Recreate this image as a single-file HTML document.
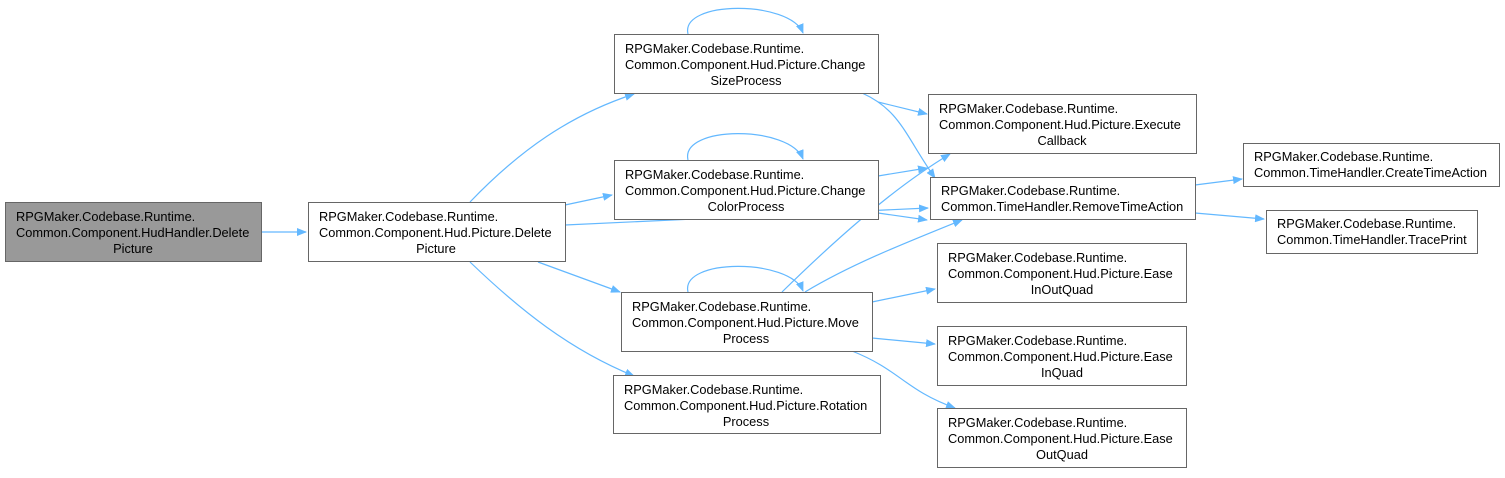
<!DOCTYPE html>
<html><head><meta charset="utf-8"><style>
body{margin:0;background:#fff}
svg text{font-family:"Liberation Sans",sans-serif;font-size:12.8px;fill:#000}
</style></head><body>
<svg width="1505" height="473" viewBox="0 0 1505 473" xmlns="http://www.w3.org/2000/svg">
<defs><marker id="a" markerWidth="10" markerHeight="8" refX="9" refY="4" orient="auto" markerUnits="userSpaceOnUse"><path d="M0,0 L10,4 L0,8 z" fill="#63b8ff"/></marker></defs>
<g fill="none" stroke="#63b8ff" stroke-width="1.2" marker-end="url(#a)">
<path d="M261,232 L306,232"/>
<path d="M470,202 C520,150 570,115 634,94"/>
<path d="M565,205 L612,195"/>
<path d="M565,225 L928,208"/>
<path d="M538,262 L620,292"/>
<path d="M470,262 C520,310 570,350 634,376"/>
<path d="M688,34 C680,0 790,0 803,33"/>
<path d="M688,160 C680,125 790,125 803,159"/>
<path d="M688,292 C680,258 790,258 803,291"/>
<path d="M878,102 L927,114"/>
<path d="M862,93 C900,110 905,135 935,178"/>
<path d="M878,176 L927,168"/>
<path d="M878,213 L927,220"/>
<path d="M782,292 C830,245 890,190 950,154"/>
<path d="M805,292 C850,265 900,245 962,220"/>
<path d="M872,302 L935,289"/>
<path d="M872,338 L935,344"/>
<path d="M852,351 C900,370 905,390 955,408"/>
<path d="M1195,185 L1242,179"/>
<path d="M1195,213 L1264,219"/>
</g>
<g stroke="#666" stroke-width="1">
<rect x="5.5" y="202.5" width="256" height="59" fill="#999"/>
<rect x="308.5" y="202.5" width="257" height="59" fill="#fff"/>
<rect x="614.5" y="34.5" width="264" height="59" fill="#fff"/>
<rect x="614.5" y="160.5" width="264" height="59" fill="#fff"/>
<rect x="621.5" y="292.5" width="251" height="59" fill="#fff"/>
<rect x="613.5" y="375.5" width="267" height="58" fill="#fff"/>
<rect x="928.5" y="94.5" width="268" height="59" fill="#fff"/>
<rect x="930.5" y="177.5" width="265" height="42" fill="#fff"/>
<rect x="937.5" y="243.5" width="249" height="59" fill="#fff"/>
<rect x="937.5" y="326.5" width="249" height="59" fill="#fff"/>
<rect x="937.5" y="408.5" width="249" height="59" fill="#fff"/>
<rect x="1243.5" y="143.5" width="256" height="43" fill="#fff"/>
<rect x="1266.5" y="210.5" width="211" height="43" fill="#fff"/>
</g>
<text x="16" y="221">RPGMaker.Codebase.Runtime.</text><text x="16" y="237">Common.Component.HudHandler.Delete</text><text x="133" y="253" text-anchor="middle">Picture</text>
<text x="319" y="221">RPGMaker.Codebase.Runtime.</text><text x="319" y="237">Common.Component.Hud.Picture.Delete</text><text x="436" y="253" text-anchor="middle">Picture</text>
<text x="625" y="53">RPGMaker.Codebase.Runtime.</text><text x="625" y="69">Common.Component.Hud.Picture.Change</text><text x="746" y="85" text-anchor="middle">SizeProcess</text>
<text x="625" y="179">RPGMaker.Codebase.Runtime.</text><text x="625" y="195">Common.Component.Hud.Picture.Change</text><text x="746" y="211" text-anchor="middle">ColorProcess</text>
<text x="632" y="311">RPGMaker.Codebase.Runtime.</text><text x="632" y="327">Common.Component.Hud.Picture.Move</text><text x="746" y="343" text-anchor="middle">Process</text>
<text x="624" y="394">RPGMaker.Codebase.Runtime.</text><text x="624" y="410">Common.Component.Hud.Picture.Rotation</text><text x="746" y="426" text-anchor="middle">Process</text>
<text x="939" y="113">RPGMaker.Codebase.Runtime.</text><text x="939" y="129">Common.Component.Hud.Picture.Execute</text><text x="1062" y="145" text-anchor="middle">Callback</text>
<text x="941" y="195">RPGMaker.Codebase.Runtime.</text><text x="941" y="211">Common.TimeHandler.RemoveTimeAction</text>
<text x="948" y="262">RPGMaker.Codebase.Runtime.</text><text x="948" y="278">Common.Component.Hud.Picture.Ease</text><text x="1062" y="294" text-anchor="middle">InOutQuad</text>
<text x="948" y="345">RPGMaker.Codebase.Runtime.</text><text x="948" y="361">Common.Component.Hud.Picture.Ease</text><text x="1062" y="377" text-anchor="middle">InQuad</text>
<text x="948" y="427">RPGMaker.Codebase.Runtime.</text><text x="948" y="443">Common.Component.Hud.Picture.Ease</text><text x="1062" y="459" text-anchor="middle">OutQuad</text>
<text x="1254" y="161">RPGMaker.Codebase.Runtime.</text><text x="1254" y="177">Common.TimeHandler.CreateTimeAction</text>
<text x="1277" y="228">RPGMaker.Codebase.Runtime.</text><text x="1277" y="244">Common.TimeHandler.TracePrint</text>
</svg>
</body></html>
